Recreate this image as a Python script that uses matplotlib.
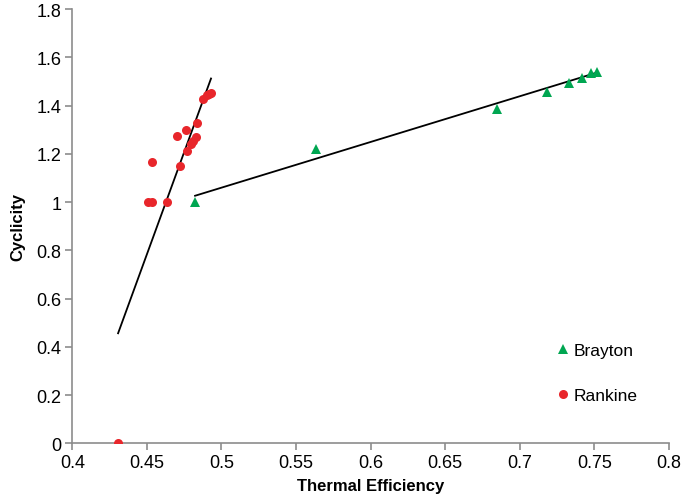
import matplotlib.pyplot as plt
import numpy as np

plt.rcParams['font.family'] = ['Liberation Sans', 'DejaVu Sans']

# Rankine cycle points (thermal efficiency, cyclicity)
rankine_eff = [0.4304, 0.4510, 0.4532, 0.4633, 0.4536, 0.4722, 0.4767,
               0.4704, 0.4762, 0.4834, 0.4796, 0.4811, 0.4827,
               0.4878, 0.4905, 0.4918, 0.4930]
rankine_cyc = [0.0, 1.0, 1.0, 1.0, 1.167, 1.15, 1.21,
               1.272, 1.298, 1.326, 1.24, 1.254, 1.268,
               1.429, 1.443, 1.447, 1.451]

# Brayton cycle points
brayton_eff = [0.4823, 0.5632, 0.6849, 0.7180, 0.7330, 0.7419, 0.7475, 0.7515]
brayton_cyc = [1.0, 1.219, 1.385, 1.457, 1.4925, 1.516, 1.533, 1.541]

# trendline ends
rankine_trend_x = [0.4307, 0.4930]
rankine_trend_y = [0.456, 1.512]
brayton_trend_x = [0.4823, 0.7504]
brayton_trend_y = [1.026, 1.534]

red = '#E8262B'
green = '#00A651'
grey = '#8C8C8C'


def main():
    fig = plt.figure(figsize=(6.84, 5.02), dpi=100)
    ax = fig.add_axes([0.1057, 0.115, 0.8723, 0.865])

    ax.plot(rankine_trend_x, rankine_trend_y, color='black', lw=1.3, zorder=2)
    ax.plot(brayton_trend_x, brayton_trend_y, color='black', lw=1.3, zorder=2)

    ax.plot(brayton_eff, brayton_cyc, '^', color=green, ms=7, mew=0,
            label='Brayton', zorder=3)
    ax.plot(rankine_eff, rankine_cyc, 'o', color=red, ms=6.5, mew=0,
            label='Rankine', zorder=3)

    ax.set_xlim(0.4, 0.8)
    ax.set_ylim(0, 1.8)
    ax.set_xticks(np.arange(0.4, 0.801, 0.05))
    ax.set_yticks(np.arange(0, 1.801, 0.2))
    ax.set_xticklabels(['0.4', '0.45', '0.5', '0.55', '0.6', '0.65',
                        '0.7', '0.75', '0.8'])
    ax.set_yticklabels(['0', '0.2', '0.4', '0.6', '0.8', '1',
                        '1.2', '1.4', '1.6', '1.8'])

    for s in ['top', 'right']:
        ax.spines[s].set_visible(False)
    for s in ['left', 'bottom']:
        ax.spines[s].set_color(grey)
        ax.spines[s].set_linewidth(1.2)
    ax.tick_params(direction='out', length=5, width=1.2, color=grey,
                   labelsize=13, pad=3)

    ax.set_xlabel('Thermal Efficiency', fontsize=12, fontweight='bold',
                  labelpad=5)
    ax.set_ylabel('Cyclicity', fontsize=12, fontweight='bold', labelpad=8)

    ax.legend(loc='center left', bbox_to_anchor=(0.802, 0.162), frameon=False,
              fontsize=12.5, handlelength=0.6, handletextpad=0.3,
              labelspacing=1.7, borderaxespad=0)

    fig.savefig('out.png', dpi=100)


if __name__ == "__main__":
    main()
